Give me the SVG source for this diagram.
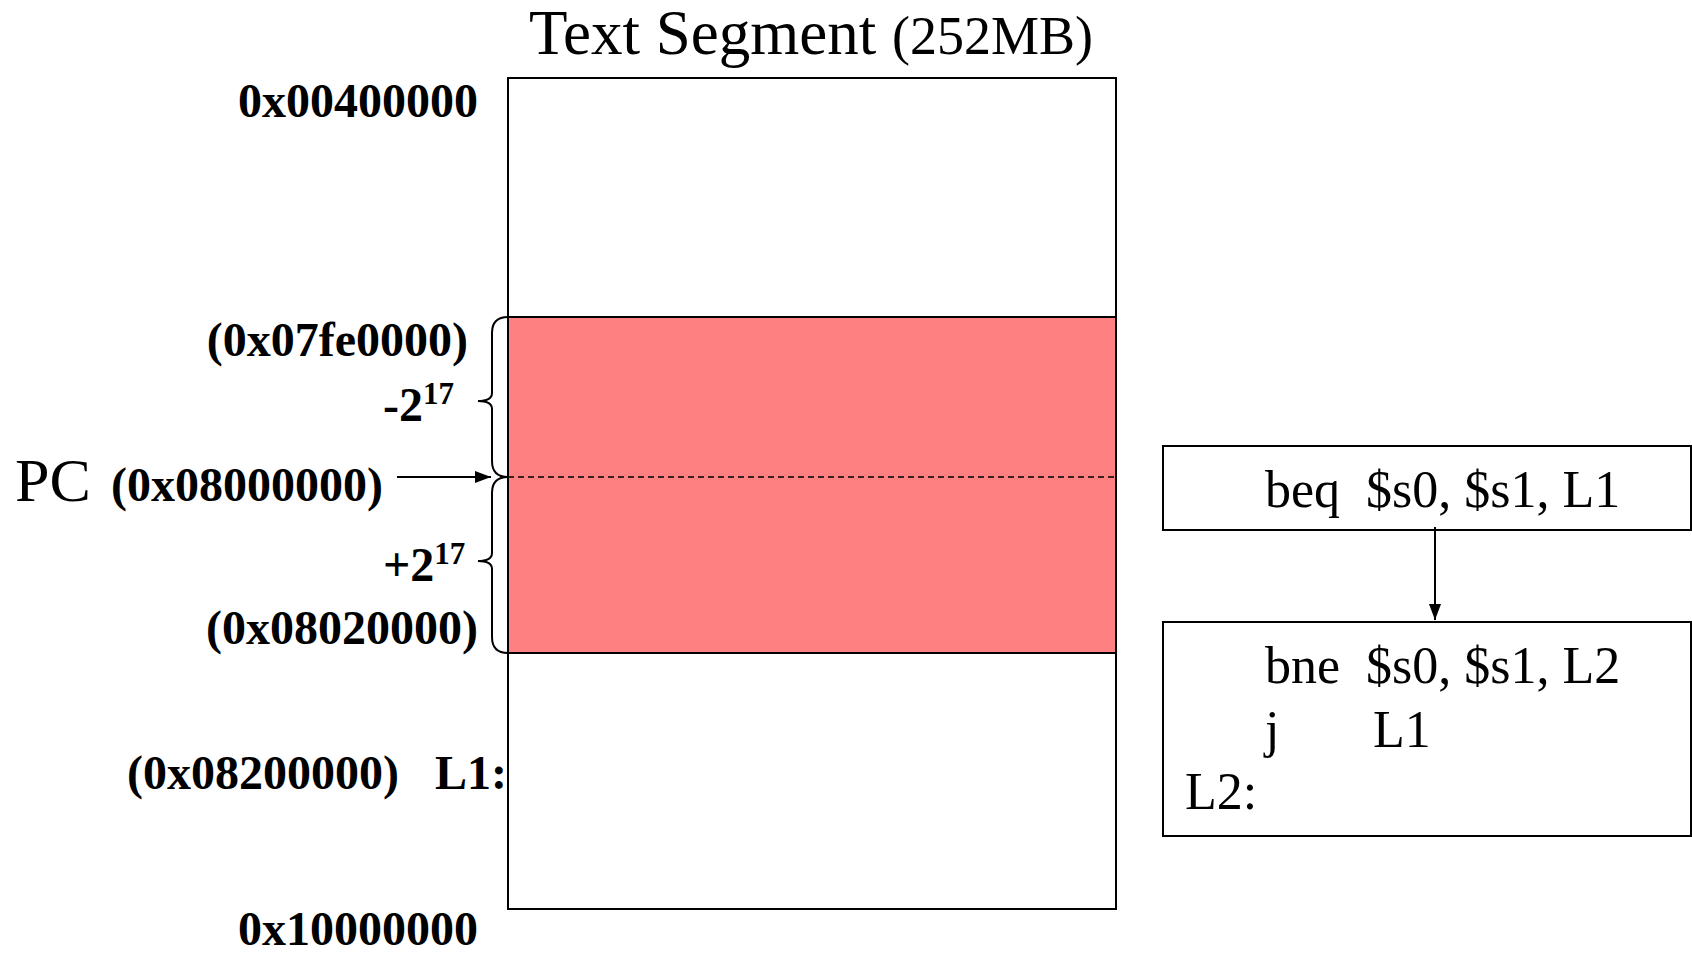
<svg xmlns="http://www.w3.org/2000/svg" width="1692" height="953" viewBox="0 0 1692 953">
<defs>
<style>
.b{font-family:"Liberation Serif","Times New Roman",serif;font-weight:bold;font-size:48px;fill:#000}
.r{font-family:"Liberation Serif","Times New Roman",serif;font-size:52px;fill:#000}
.big{font-size:62px}
.ttl{font-size:63px}
.sup{font-size:31px}
.box{fill:#fff;stroke:#000;stroke-width:2}
.ln{stroke:#000;stroke-width:2;fill:none}
</style>
<marker id="ah2" viewBox="0 0 16 12" refX="16" refY="6" markerWidth="16" markerHeight="12" markerUnits="userSpaceOnUse" orient="auto">
<path d="M0,0 L16,6 L0,12 Z" fill="#000"/>
</marker>
</defs>
<rect width="1692" height="953" fill="#fff"/>

<g id="title">
<text x="529" y="54" class="r ttl">Text Segment <tspan style="font-size:54px">(252MB)</tspan></text>
</g>

<g id="segment">
<rect x="508" y="78" width="608" height="831" class="box"/>
<rect x="508" y="317" width="608" height="336" fill="#ff8080" stroke="#000" stroke-width="2"/>
<line x1="508" y1="477" x2="1116" y2="477" stroke="#000" stroke-width="1.5" stroke-dasharray="6,4"/>
</g>

<g id="braces">
<path class="ln" d="M508,317 Q492,317 492,333 L492,393 Q492,401 478,401 Q492,401 492,409 L492,461 Q492,477 508,477"/>
<path class="ln" d="M508,477 Q492,477 492,493 L492,553 Q492,561 478,561 Q492,561 492,569 L492,637 Q492,653 508,653"/>
</g>

<g id="labels">
<text x="478" y="117" class="b" text-anchor="end">0x00400000</text>
<text x="468" y="356" class="b" text-anchor="end">(0x07fe0000)</text>
<text x="383" y="421" class="b">-2<tspan class="sup" dy="-17">17</tspan></text>
<text x="15" y="501" class="r big">PC</text>
<text x="111" y="501" class="b">(0x08000000)</text>
<text x="383" y="581" class="b">+2<tspan class="sup" dy="-17">17</tspan></text>
<text x="478" y="644" class="b" text-anchor="end">(0x08020000)</text>
<text x="127" y="789" class="b" xml:space="preserve">(0x08200000)   L1:</text>
<text x="478" y="945" class="b" text-anchor="end">0x10000000</text>
</g>

<g id="beq">
<rect x="1163" y="446" width="528" height="84" class="box"/>
<text x="1265" y="507" class="r" xml:space="preserve">beq  $s0, $s1, L1</text>
</g>

<g id="bne">
<rect x="1163" y="622" width="528" height="214" class="box"/>
<text x="1265" y="683" class="r" xml:space="preserve">bne  $s0, $s1, L2</text>
<text x="1265" y="747" class="r">j</text>
<text x="1373" y="747" class="r">L1</text>
<text x="1185" y="809" class="r">L2:</text>
</g>

<g id="connectors">
<line x1="397" y1="477" x2="491" y2="477" stroke="#000" stroke-width="2" marker-end="url(#ah2)"/>
<line x1="1435" y1="527" x2="1435" y2="620" stroke="#000" stroke-width="2" marker-end="url(#ah2)"/>
</g>
</svg>
